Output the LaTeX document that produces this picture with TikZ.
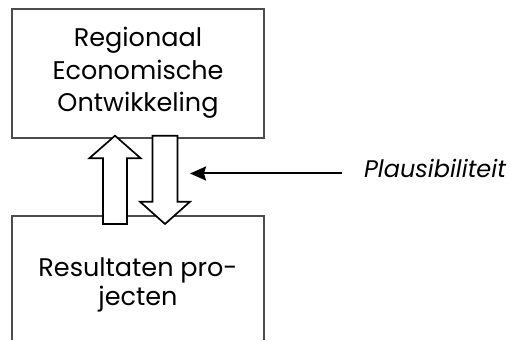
\documentclass[tikz,border=0pt]{standalone}
\usepackage{fontspec}
\setmainfont{Poppins}
\usetikzlibrary{arrows.meta}
\begin{document}
\begin{tikzpicture}[x=1pt,y=1pt,
  box/.style={draw=boxColor,line width=1.1pt,inner sep=0pt,outer sep=0pt},
  label/.style={anchor=base,inner sep=0pt,outer sep=0pt,font=\fontsize{25.5}{30}\selectfont},
  blockarrow/.style={draw=black,fill=white,line width=1.7pt,line join=miter}]
\definecolor{boxColor}{gray}{0.30}
\path[use as bounding box] (0,0) rectangle (510,340);

% upper box
\node[box,minimum width=252pt,minimum height=129pt] (reo) at (138,266.5) {};
\node[label] (reo1) at (138,293) {Regionaal};
\node[label] (reo2) at (138,260) {Economische};
\node[label] (reo3) at (138,228) {Ontwikkeling};

% lower box, open at the bottom
\node[inner sep=0pt,outer sep=0pt,minimum width=252pt,minimum height=124pt] (res) at (138,62) {};
\draw[draw=boxColor,line width=1.1pt] (res.south west) -- (res.north west) --
	(res.north east) -- (res.south east);
\node[label] (res1) at (138,64) {Resultaten pro-};
\node[label] (res2) at (138,35) {jecten};

% block arrows
\path[blockarrow] (103,116) -- (103,181.7) -- (89.3,181.7) -- (115,204.3) --
	(140.7,181.7) -- (127,181.7) -- (127,116) -- cycle;

\path[blockarrow] (152.5,204.3) -- (152.5,138.3) -- (140,138.3) -- (165,116) --
	(190,138.3) -- (177.5,138.3) -- (177.5,204.3) -- cycle;

% plausibility
\node[label,anchor=base east,font=\fontsize{24}{30}\selectfont\itshape] (plaus) at (506,162) {Plausibiliteit};
\coordinate (tip) at (190,166.5);
\draw[line width=2pt,-{Stealth[length=16pt,width=14pt,inset=2pt]}] (plaus.west |- tip) ++(-22,0) -- (tip);
\end{tikzpicture}
\end{document}
